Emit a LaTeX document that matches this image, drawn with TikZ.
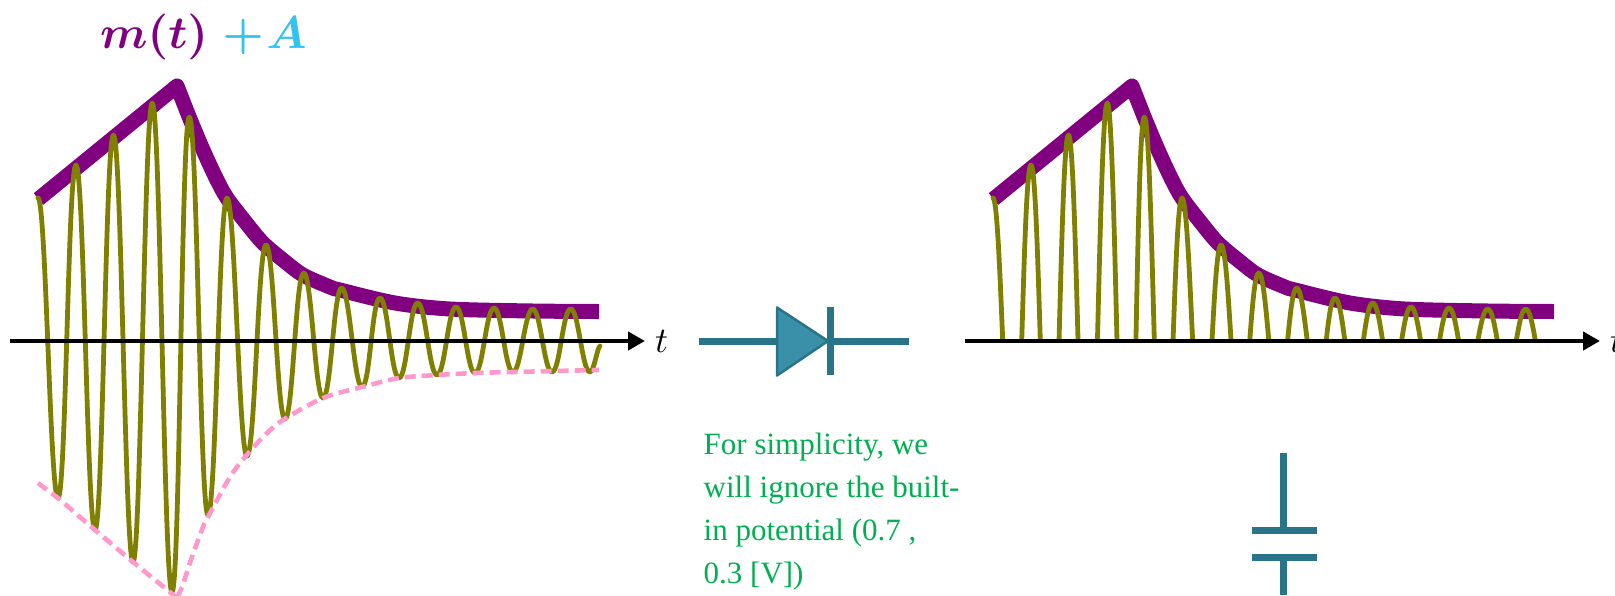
\documentclass[tikz,border=0pt]{standalone}
\usepackage{fontspec}
\setmainfont{Liberation Serif}
\usetikzlibrary{arrows.meta}
\definecolor{envpurple}{HTML}{800080}
\definecolor{skyb}{HTML}{33C3F0}
\definecolor{wave}{HTML}{808000}
\definecolor{pinkd}{HTML}{FF99CC}
\definecolor{teal2}{HTML}{2A7489}
\definecolor{tealf}{HTML}{3A90A8}
\definecolor{greent}{HTML}{00B050}
\tikzset{
  envelope/.style={envpurple,line width=15pt,line join=round},
  carrier/.style={wave,line width=4.8pt,line join=round,line cap=round},
  lowerenv/.style={pinkd,line width=4.6pt,dash pattern=on 11pt off 6pt},
  axisline/.style={black,line width=4.4pt,-{Triangle[length=17pt,width=18pt]}},
  wire/.style={teal2,line width=7pt},
  tlabel/.style={inner sep=0pt,anchor=west},
}
\newcommand{\wavepath}{%
  (38,198)
  \foreach \px/\py in {58/498,76/165,95/530,113.5/135,133/562,152.3/103,172/592,189.3/117,208/515,227/198,247/456,266/245,285/419,303.7/273,323/398,341.7/288,362/387,380/298,399/378,417.7/303,437/375,456/307,475/373,494/308,513/372,532.7/309,552/372,570.7/309,590/372}
  { .. controls +(8,0) and +(-8,0) .. (\px,\py) }
  .. controls +(4,0) and +(-3,2) .. (600,346)}
\newcommand{\envpath}{%
  (38.5,199) -- plot[smooth,tension=0.5] coordinates {(177,86) (190,119) (200,143) (208,161) (217,180) (227,198) (247,224) (263,243) (283,260) (303,275) (330,287) (340,290) (395,303) (450,309) (533,311) (599,311.5)}}
\begin{document}
\begin{tikzpicture}[x=1pt,y=-1pt]
\useasboundingbox (0,0) rectangle (1615,595);
% left plot
\draw[envelope] \envpath;
\draw[carrier] \wavepath;
\draw[lowerenv] (38,483) -- (58,498) -- (95,530) -- (133,562) -- (176,597);
\draw[lowerenv] plot[smooth,tension=0.5] coordinates {(177,597) (182,587) (192,557) (203,527) (208,517) (227,482) (240,463) (263,437) (283,420) (323,398) (362,387) (399,378) (437,375) (475,373) (513,372) (599,370)};
\coordinate (axLa) at (10,341);
\coordinate (axLb) at (645,341);
\draw[axisline] (axLa) -- (axLb);
\node[tlabel] (tL) at (655,341) {\scalebox{3.6}{$t$}};
\node[inner sep=0pt,anchor=base west] (title) at (100,48)
  {\scalebox{4.6}{\boldmath\textcolor{envpurple}{$m(t)$}\textcolor{skyb}{$\;+\mkern1mu A$}}};
% diode
\coordinate (dA) at (699,341);
\coordinate (dK) at (909,341);
\coordinate (dT) at (830,341);
\coordinate (dB) at (777,341);
\draw[wire] (dA) -- (dB);
\draw[wire] (dT) -- (dK);
\draw[teal2,fill=tealf,line width=2.5pt,line join=round] (777,307.5) -- (828,341) -- (777,375.5) -- cycle;
\draw[wire] (830,307) -- (830,375);
% note
\node[greent,inner sep=0pt,anchor=base west,align=left,font=\fontsize{31}{42.7}\selectfont] (note) at (703.5,583)
  {For simplicity, we\\will ignore the built-\\in potential (0.7 ,\\0.3 [V])};
% right plot
\begin{scope}[xshift=955pt]
\draw[envelope] \envpath;
\begin{scope}
\clip (0,0) rectangle (660,342);
\draw[carrier] \wavepath;
\end{scope}
\coordinate (axRa) at (10,341);
\coordinate (axRb) at (645,341);
\draw[axisline] (axRa) -- (axRb);
\node[tlabel] (tR) at (655,341) {\scalebox{3.6}{$t$}};
\end{scope}
% capacitor
\coordinate (c1) at (1283,453);
\coordinate (c2) at (1283,530);
\coordinate (c3) at (1283,557);
\coordinate (c4) at (1283,595);
\draw[wire] (c1) -- (c2);
\draw[wire] (c3) -- (c4);
\draw[wire] (1252,530) -- (1317,530);
\draw[wire] (1252,557) -- (1317,557);
\end{tikzpicture}
\end{document}
